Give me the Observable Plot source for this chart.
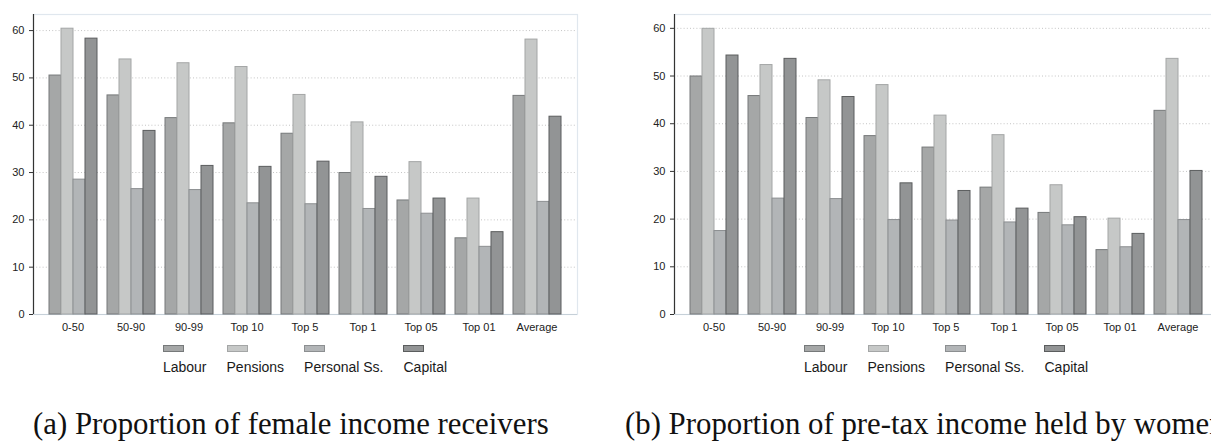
<!DOCTYPE html>
<html>
<head>
<meta charset="utf-8">
<script src="https://cdn.jsdelivr.net/npm/d3@7"></script>
<script src="https://cdn.jsdelivr.net/npm/@observablehq/plot@0.6"></script>
<style>
  html, body { margin: 0; padding: 0; background: #fff; }
  #wrap { position: relative; width: 1211px; height: 442px; overflow: hidden; background: #fff; }
  .panel { position: absolute; top: 0; width: 641px; height: 335px; }
  .panel svg { position: absolute; left: 0; top: 0; }
  .legend { position: absolute; top: 345px; display: flex; gap: 20px; font-family: "Liberation Sans", Arial, sans-serif; font-size: 14px; color: #1a1a1a; }
  .legend .item { display: flex; flex-direction: column; align-items: flex-start; }
  .legend .sw { width: 21px; height: 7px; box-sizing: border-box; border: 1px solid; margin-bottom: 8px; }
  .legend .lab { line-height: 14px; white-space: nowrap; }
  .cap { position: absolute; top: 409px; font-family: "Liberation Serif", "Times New Roman", serif; font-size: 30.8px; line-height: 30.8px; color: #111; white-space: nowrap; }
</style>
</head>
<body>
<div id="wrap">
  <div class="panel" id="pa" style="left:0px"></div>
  <div class="panel" id="pb" style="left:641px"></div>
  <div class="legend" id="la"></div>
  <div class="legend" id="lb"></div>
  <div class="cap" style="left:33px">(a) Proportion of female income receivers</div>
  <div class="cap" style="left:625px">(b) Proportion of pre-tax income held by women</div>
</div>
<script>
// ---- data ----
const groups = ["0-50", "50-90", "90-99", "Top 10", "Top 5", "Top 1", "Top 05", "Top 01", "Average"];
const series = ["Labour", "Pensions", "Personal Ss.", "Capital"];
const yTicks = [0, 10, 20, 30, 40, 50, 60];

// (a) Proportion of female income receivers
const receiversLabour   = [50.5, 46.3, 41.5, 40.4, 38.2, 29.9, 24.1, 16.1, 46.2];
const receiversPensions = [60.4, 53.9, 53.1, 52.3, 46.4, 40.6, 32.2, 24.5, 58.1];
const receiversPersonal = [28.5, 26.5, 26.3, 23.5, 23.3, 22.3, 21.3, 14.3, 23.8];
const receiversCapital  = [58.3, 38.8, 31.4, 31.2, 32.3, 29.1, 24.5, 17.4, 41.8];

// (b) Proportion of pre-tax income held by women
const incomeLabour   = [49.9, 45.8, 41.2, 37.4, 35.0, 26.6, 21.3, 13.5, 42.7];
const incomePensions = [59.9, 52.3, 49.1, 48.1, 41.7, 37.6, 27.1, 20.1, 53.6];
const incomePersonal = [17.5, 24.3, 24.2, 19.8, 19.7, 19.3, 18.7, 14.1, 19.8];
const incomeCapital  = [54.3, 53.6, 45.6, 27.5, 25.9, 22.2, 20.4, 16.9, 30.1];

const fills   = ["#a5a7a7", "#c6c8c7", "#b2b5b7", "#929495"];
const strokes = ["#76797a", "#a4a6a6", "#8c8f91", "#5b5d5e"];

function toRows(arrs) {
  const rows = [];
  groups.forEach((g, i) => series.forEach((s, j) => rows.push({group: g, series: s, value: arrs[j][i]})));
  return rows;
}

function panel(el, rows, ymax) {
  const common = {
    width: 641, height: 335,
    marginLeft: 33, marginRight: 64, marginTop: 14, marginBottom: 21,
    style: {fontFamily: "'Liberation Sans', Arial, sans-serif", fontSize: "11px", color: "#222", background: "transparent", overflow: "visible"}
  };
  const base = Plot.plot({
    ...common,
    x: {domain: [0, 1], axis: null},
    y: {domain: [0, ymax], axis: null},
    marks: [
      Plot.frame({stroke: "#e0e7ee", strokeWidth: 1.2}),
      Plot.ruleY(yTicks.filter(d => d > 0), {stroke: "#c4c4c4", strokeDasharray: "1,2.2", strokeWidth: 1}),
      Plot.ruleY([0], {stroke: "#c6d0d8"}),
      Plot.ruleX([0], {stroke: "#333", strokeWidth: 1.2}),
      Plot.axisY(yTicks, {tickSize: 4, tickPadding: 5, label: null, stroke: "#333"})
    ]
  });
  const bars = Plot.plot({
    ...common,
    fx: {domain: groups, paddingInner: 0.151, paddingOuter: 0.26, label: null, axis: "bottom", tickSize: 0, tickPadding: 9},
    x: {domain: series, padding: 0, axis: null},
    y: {domain: [0, ymax], axis: null},
    marks: series.map((s, j) => Plot.barY(rows.filter(r => r.series === s), {
      fx: "group", x: "series", y: "value", fill: fills[j], stroke: strokes[j], strokeWidth: 1
    }))
  });
  el.appendChild(base);
  el.appendChild(bars);
}

function legend(el, centerX) {
  series.forEach((s, j) => {
    const it = document.createElement("div");
    it.className = "item";
    const sw = document.createElement("div");
    sw.className = "sw";
    sw.style.background = fills[j];
    sw.style.borderColor = strokes[j];
    const lab = document.createElement("div");
    lab.className = "lab";
    lab.textContent = s;
    it.appendChild(sw); it.appendChild(lab);
    el.appendChild(it);
  });
  const w = el.getBoundingClientRect().width;
  el.style.left = (centerX - w / 2) + "px";
}

panel(document.getElementById("pa"), toRows([receiversLabour, receiversPensions, receiversPersonal, receiversCapital]), 63.4);
panel(document.getElementById("pb"), toRows([incomeLabour, incomePensions, incomePersonal, incomeCapital]), 62.9);
legend(document.getElementById("la"), 305);
legend(document.getElementById("lb"), 946);
</script>
</body>
</html>
